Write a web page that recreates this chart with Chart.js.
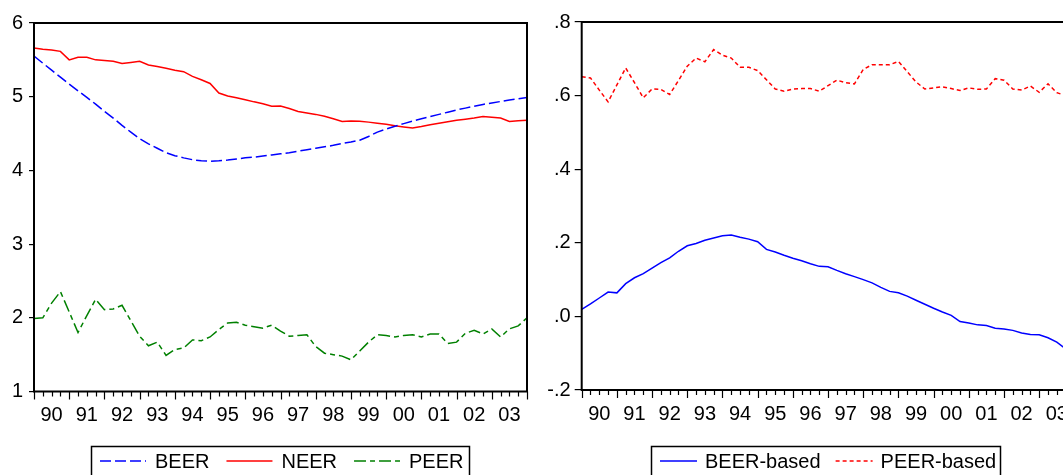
<!DOCTYPE html>
<html>
<head>
<meta charset="utf-8">
<script src="https://cdn.jsdelivr.net/npm/chart.js@4.4.0/dist/chart.umd.min.js"></script>
<style>
  html, body { margin: 0; padding: 0; background: #fff; overflow: hidden; }
  #wrap { position: relative; width: 1063px; height: 475px; overflow: hidden; background: #fff; }
  #leftChart { position: absolute; left: 0; top: 0; }
  #rightChart { position: absolute; left: 530px; top: 0; }
</style>
</head>
<body>
<div id="wrap">
  <canvas id="leftChart" width="545" height="475"></canvas>
  <canvas id="rightChart" width="560" height="475"></canvas>
</div>
<script>
// Quarterly observations, one per quarter tick from 1990
const years = ['90', '91', '92', '93', '94', '95', '96', '97', '98', '99', '00', '01', '02', '03'];

const beer = [5.55, 5.455, 5.36, 5.265, 5.17, 5.08, 4.99, 4.90, 4.80, 4.71,
  4.61, 4.52, 4.43, 4.36, 4.30, 4.24, 4.20, 4.17, 4.145, 4.13,
  4.125, 4.13, 4.14, 4.155, 4.17, 4.18, 4.195, 4.21, 4.225, 4.24,
  4.26, 4.28, 4.30, 4.32, 4.34, 4.365, 4.385, 4.41, 4.46, 4.52,
  4.56, 4.60, 4.635, 4.67, 4.70, 4.73, 4.76, 4.79, 4.82, 4.845,
  4.87, 4.895, 4.915, 4.935, 4.955, 4.97, 4.99];

const neer = [5.66, 5.645, 5.633, 5.615, 5.50, 5.534, 5.534, 5.50, 5.49, 5.48,
  5.45, 5.465, 5.48, 5.43, 5.41, 5.385, 5.36, 5.34, 5.276, 5.23,
  5.18, 5.05, 5.01, 4.985, 4.96, 4.93, 4.905, 4.87, 4.873, 4.84,
  4.80, 4.78, 4.76, 4.735, 4.70, 4.665, 4.67, 4.668, 4.655, 4.64,
  4.625, 4.606, 4.59, 4.575, 4.595, 4.62, 4.64, 4.66, 4.68, 4.695,
  4.71, 4.73, 4.72, 4.71, 4.665, 4.672, 4.68];

const peer = [1.99, 2.00, 2.20, 2.355, 2.08, 1.80, 2.03, 2.25, 2.11, 2.12,
  2.17, 1.96, 1.75, 1.62, 1.67, 1.49, 1.57, 1.59, 1.70, 1.69,
  1.74, 1.84, 1.93, 1.94, 1.90, 1.88, 1.86, 1.90, 1.82, 1.75,
  1.76, 1.77, 1.61, 1.52, 1.50, 1.48, 1.43, 1.55, 1.67, 1.77,
  1.76, 1.74, 1.76, 1.77, 1.74, 1.78, 1.78, 1.65, 1.67, 1.79,
  1.83, 1.78, 1.85, 1.74, 1.85, 1.89, 2.00];

const beerBased = [0.019, 0.034, 0.050, 0.066, 0.064, 0.089, 0.105, 0.116, 0.131, 0.146,
  0.159, 0.177, 0.192, 0.198, 0.207, 0.213, 0.219, 0.221, 0.215, 0.210,
  0.203, 0.182, 0.175, 0.166, 0.158, 0.151, 0.143, 0.136, 0.135, 0.125,
  0.116, 0.108, 0.100, 0.091, 0.079, 0.068, 0.064, 0.055, 0.044, 0.033,
  0.022, 0.012, 0.003, -0.014, -0.018, -0.023, -0.025, -0.032, -0.034, -0.038,
  -0.045, -0.049, -0.050, -0.058, -0.070, -0.088, -0.095];

const peerBased = [0.651, 0.648, 0.615, 0.583, 0.629, 0.675, 0.635, 0.594, 0.618, 0.617,
  0.603, 0.641, 0.680, 0.702, 0.692, 0.725, 0.710, 0.702, 0.677, 0.677,
  0.668, 0.643, 0.618, 0.612, 0.618, 0.619, 0.619, 0.612, 0.627, 0.642,
  0.635, 0.632, 0.671, 0.684, 0.684, 0.684, 0.693, 0.665, 0.637, 0.618,
  0.621, 0.624, 0.619, 0.614, 0.621, 0.617, 0.618, 0.646, 0.642, 0.618,
  0.615, 0.626, 0.609, 0.632, 0.608, 0.600, 0.598];

const leftTicks = [1, 2, 3, 4, 5, 6];
const leftTickLabels = ['1', '2', '3', '4', '5', '6'];
const rightTicks = [-0.2, 0, 0.2, 0.4, 0.6, 0.8];
const rightTickLabels = ['-.2', '.0', '.2', '.4', '.6', '.8'];

const quarterCount = years.length * 4;
const FONT = '"Liberation Sans", Arial, sans-serif';

function toPoints(values) {
    return values.map((v, i) => ({ x: i, y: v }));
}

// box, quarter ticks on the time axis and the framed legend
const framePlugin = {
    id: 'frame',
    afterDraw(chart, args, opts) {
        const ctx = chart.ctx;
        const a = chart.chartArea;
        const xs = chart.scales.x;
        ctx.save();
        ctx.strokeStyle = '#000';
        ctx.lineWidth = 1.2;
        for (let q = 0; q <= quarterCount; q++) {
            const px = Math.round(xs.getPixelForValue(q)) + 0.5;
            ctx.beginPath();
            ctx.moveTo(px, a.bottom);
            ctx.lineTo(px, a.bottom + (q % 4 === 0 ? 8 : 5));
            ctx.stroke();
        }
        ctx.lineWidth = 2;
        ctx.strokeRect(a.left, a.top, a.right - a.left, a.bottom - a.top);

        // legend
        ctx.font = '20px ' + FONT;
        const items = chart.data.datasets;
        let total = opts.padL + opts.padR + opts.spacing * (items.length - 1);
        items.forEach(d => { total += opts.sample + opts.gap + ctx.measureText(d.label).width; });
        const center = (a.left + a.right) / 2 + (opts.shift || 0);
        let x = Math.round(center - total / 2);
        ctx.lineWidth = 1.5;
        ctx.strokeStyle = '#000';
        ctx.strokeRect(x + 0.5, opts.top + 0.5, Math.round(total), 60);
        x += opts.padL;
        ctx.textBaseline = 'middle';
        ctx.textAlign = 'left';
        items.forEach(d => {
            ctx.beginPath();
            ctx.setLineDash(d.borderDash || []);
            ctx.strokeStyle = d.borderColor;
            ctx.lineWidth = d.borderWidth;
            ctx.moveTo(x, opts.textY);
            ctx.lineTo(x + opts.sample, opts.textY);
            ctx.stroke();
            ctx.setLineDash([]);
            x += opts.sample + opts.gap;
            ctx.fillStyle = '#000';
            ctx.fillText(d.label, x, opts.textY + 1);
            x += ctx.measureText(d.label).width + opts.spacing;
        });
        ctx.restore();
    }
};

function makeChart(id, datasets, cfg) {
    return new Chart(document.getElementById(id), {
        type: 'line',
        data: { datasets: datasets },
        options: {
            responsive: false,
            animation: false,
            devicePixelRatio: 1,
            layout: { padding: cfg.padding },
            elements: { point: { radius: 0 }, line: { tension: 0 } },
            plugins: {
                legend: { display: false },
                tooltip: { enabled: false },
                frame: cfg.legend
            },
            scales: {
                x: {
                    type: 'linear',
                    min: 0,
                    max: quarterCount,
                    grid: { display: false },
                    border: { display: false },
                    afterBuildTicks: s => { s.ticks = years.map((y, k) => ({ value: 4 * k + 2 })); },
                    afterFit: s => { s.height = 45; },
                    ticks: {
                        autoSkip: false,
                        maxRotation: 0,
                        padding: cfg.xPad,
                        color: '#000',
                        font: { size: 20, family: FONT },
                        callback: v => years[(v - 2) / 4]
                    }
                },
                y: {
                    min: cfg.yTicks[0],
                    max: cfg.yTicks[cfg.yTicks.length - 1],
                    grid: { drawOnChartArea: false, drawTicks: true, tickLength: cfg.tickLen, color: '#000', lineWidth: 1.2 },
                    border: { display: false },
                    afterBuildTicks: s => { s.ticks = cfg.yTicks.map(v => ({ value: v })); },
                    afterFit: s => { s.width = cfg.yWidth; },
                    ticks: {
                        padding: cfg.yPad,
                        color: '#000',
                        font: { size: 20, family: FONT },
                        callback: (v, i) => cfg.yLabels[i]
                    }
                }
            }
        },
        plugins: [framePlugin]
    });
}

makeChart('leftChart', [
    { label: 'BEER', data: toPoints(beer), borderColor: '#0000ff', borderWidth: 1.5, borderDash: [11, 4] },
    { label: 'NEER', data: toPoints(neer), borderColor: '#ff0000', borderWidth: 1.5 },
    { label: 'PEER', data: toPoints(peer), borderColor: '#008000', borderWidth: 1.5, borderDash: [12, 4, 5, 4] }
], {
    padding: { top: 23, right: 18, bottom: 38.5, left: 0 },
    yTicks: leftTicks, yLabels: leftTickLabels,
    yWidth: 34, tickLen: 5, yPad: 6, xPad: 4,
    legend: { sample: 46, gap: 9, spacing: 17, padL: 9, padR: 6, top: 446, textY: 461 }
});

makeChart('rightChart', [
    { label: 'BEER-based', data: toPoints(beerBased), borderColor: '#0000ff', borderWidth: 1.5 },
    { label: 'PEER-based', data: toPoints(peerBased), borderColor: '#ff0000', borderWidth: 1.5, borderDash: [4, 3] }
], {
    padding: { top: 22, right: 15.6, bottom: 40, left: 0 },
    yTicks: rightTicks, yLabels: rightTickLabels,
    yWidth: 51.7, tickLen: 7, yPad: 4, xPad: 4,
    legend: { sample: 37, gap: 8, spacing: 15, padL: 9, padR: 4, top: 446, textY: 461, shift: -2 }
});
</script>
</body>
</html>
